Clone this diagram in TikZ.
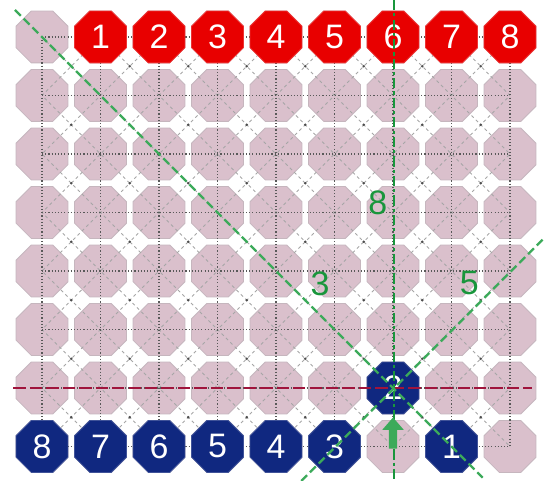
\documentclass[tikz,border=0pt]{standalone}
\usepackage{fontspec}
\setmainfont{Liberation Sans}
\usetikzlibrary{arrows.meta,shapes.geometric}
\definecolor{boardPink}{RGB}{218, 192, 204}
\definecolor{boardPinkEdge}{RGB}{198, 182, 190}
\definecolor{pieceRed}{RGB}{232, 0, 0}
\definecolor{pieceBlue}{RGB}{16, 40, 128}
\definecolor{moveGreen}{RGB}{25, 150, 60}
\definecolor{moveLightGreen}{RGB}{60, 170, 90}
\definecolor{rankCrimson}{RGB}{160, 20, 60}

\begin{document}
\begin{tikzpicture}[
  x=1cm, y=-1cm,
  square/.style={regular polygon, regular polygon sides=8, inner sep=0pt,
                 minimum size=0.96cm, font=\fontsize{16.5}{19}\selectfont},
  emptysq/.style={square, fill=boardPink, draw=boardPinkEdge, line width=0.4pt},
  redpiece/.style={square, fill=pieceRed, draw=pieceRed!80!white, line width=0.4pt, text=white},
  bluepiece/.style={square, fill=pieceBlue, draw=pieceBlue!80!white, line width=0.4pt, text=white},
  ortholine/.style={densely dotted, gray!70!black, line width=0.55pt},
  diagline/.style={dash pattern=on 1.5pt off 1.5pt, gray!70, line width=0.45pt},
  greenline/.style={moveGreen, line width=1pt, dash pattern=on 5pt off 1.5pt on 1.5pt off 1.5pt},
  greendiag/.style={moveLightGreen, line width=1.1pt, dash pattern=on 4pt off 2pt},
  rankline/.style={rankCrimson, line width=1.2pt, dash pattern=on 6pt off 2pt},
  movearrow/.style={-{Triangle[width=10pt,length=6pt]}, moveLightGreen, line width=4pt},
  countlabel/.style={text=moveGreen, font=\fontsize{16.5}{19}\selectfont}
]
\useasboundingbox (0,0) rectangle (9.299,8.222);
% empty squares
\foreach \c in {0,...,8}
  \foreach \r in {0,...,7}
    \node[emptysq] (sq-\c-\r) at (0.718+\c, 0.632+\r) {};
% lines of the board
\begin{scope}
  \clip (sq-0-0.center) rectangle (sq-8-7.center);
  \foreach \k in {-8,...,8}
    \draw[diagline] (0.718+\k, 0.632) -- (8.718+\k, 8.632);
  \foreach \k in {0,...,16}
    \draw[diagline] (0.718+\k, 0.632) -- (-7.282+\k, 8.632);
\end{scope}
\foreach \r in {0,...,7}
  \draw[ortholine] (sq-0-\r.center) -- (sq-8-\r.center);
\foreach \c in {0,...,8}
  \draw[ortholine] (sq-\c-0.center) -- (sq-\c-7.center);
\foreach \c in {0,...,7}
  \foreach \r in {0,...,6}
    \fill[black!70] (1.218+\c, 1.132+\r) circle (0.7pt);
% pieces
\foreach \c in {1,...,8}
  \node[redpiece] (red\c) at (sq-\c-0) {\c};
\foreach \c/\n in {0/8,1/7,2/6,3/5,4/4,5/3}
  \node[bluepiece] (blue\n) at (sq-\c-7) {\n};
\node[bluepiece] (blue1) at (sq-7-7) {1};
\node[bluepiece] (blue2) at (sq-6-6) {2};
% lines of the move
\coordinate (vtop) at (6.735, 0);
\coordinate (vbot) at (6.735, 8.222);
\coordinate (dstart) at (0.256, 0.171);
\coordinate (dend) at (8.25, 8.165);
\coordinate (astart) at (5.15, 8.222);
\coordinate (aend) at (9.299, 4.073);
\coordinate (hstart) at (0.23, 6.632);
\coordinate (hend) at (9.1, 6.632);
\draw[rankline] (hstart) -- (hend);
\draw[greenline] (vtop) -- (vbot);
\draw[greendiag] (dstart) -- (dend);
\draw[greendiag] (astart) -- (aend);
\node[countlabel] (cnt8) at (6.46, 3.47) {8};
\node[countlabel] (cnt3) at (5.47, 4.86) {3};
\node[countlabel] (cnt5) at (8.02, 4.84) {5};
\draw[movearrow, shorten >=1.5pt] ([yshift=-1pt]sq-6-7.center) -- (blue2.south);
\end{tikzpicture}
\end{document}
